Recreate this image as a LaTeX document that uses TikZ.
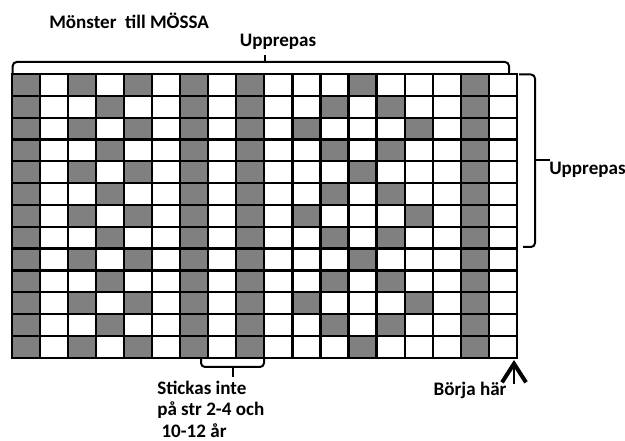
\documentclass[tikz,border=0pt]{standalone}
\usepackage{fontspec}
\setmainfont{Carlito}
\usepackage{tikz}
\usetikzlibrary{arrows.meta}

\begin{document}
\begin{tikzpicture}[x=0.75pt, y=-0.75pt,
    gridline/.style={line width=1.7pt, line cap=rect},
    cell/.style={fill=gray},
    brace/.style={line width=1.5pt, rounded corners=3pt},
    lbl/.style={font=\fontsize{14.3}{15.9}\selectfont\bfseries, inner sep=0pt},
    startarrow/.style={-{Straight Barb[length=14pt, width=18pt, line width=3pt]}, line width=1.4pt}
]
\useasboundingbox (0,0) rectangle (625,441);

% Grid corners
\coordinate (gridNW) at (11.7,74);
\coordinate (gridSE) at (517,357.7);

% Pattern cells and grid lines
\begin{scope}[shift={(gridNW)}, x=21.05pt, y=-16.365pt]
  \foreach \rows/\cols in {{0,4,8,12}/{0,2,4,6,8,12,16},
                           {1,3,5,7,9,11}/{0,3,6,8,11,13,16},
                           {2,6,10}/{0,2,4,6,8,10,14,16}}
    \foreach \r in \rows
      \foreach \c in \cols
        \fill[cell] (\c,\r) rectangle ++(1,1);
  \foreach \c in {0,...,18}
    \draw[gridline] (\c,0) -- (\c,13);
  \foreach \r in {0,...,13}
    \draw[gridline] (0,\r) -- (18,\r);
\end{scope}

% Braces
\coordinate (topTip)    at (265,62);
\coordinate (rightTip)  at (535,160);
\coordinate (bottomTip) at (232.5,367);
\draw[brace] (12.7,74) |- (topTip) -| (509,74);
\draw[brace] (topTip) -- ++(0,-6.5);
\draw[brace] (519,74.5) -| (rightTip) |- (523,247);
\draw[brace] (rightTip) -- ++(15,0);
\draw[brace] (201,358) |- (bottomTip) -| (264,358);
\draw[brace] (bottomTip) -- ++(0,10);

% Labels
\node[lbl, anchor=west] (title) at (49,20.7) {Mönster~~till MÖSSA};
\node[lbl] (topLabel) at (278,41.7) {Upprepas};
\node[lbl, anchor=west] (rightLabel) at (549,170) {Upprepas};
\node[lbl, align=left, anchor=north west] (bottomLabel) at (157,381)
    {Stickas inte\\på str 2-4 och\\~10-12 år};
\node[lbl, anchor=east] (startLabel) at (506.7,390) {Börja här};

% Start arrow
\coordinate (startBase) at (514,384);
\coordinate (startTip)  at (514,360);
\draw[startarrow] (startBase) -- (startTip);
\end{tikzpicture}
\end{document}
